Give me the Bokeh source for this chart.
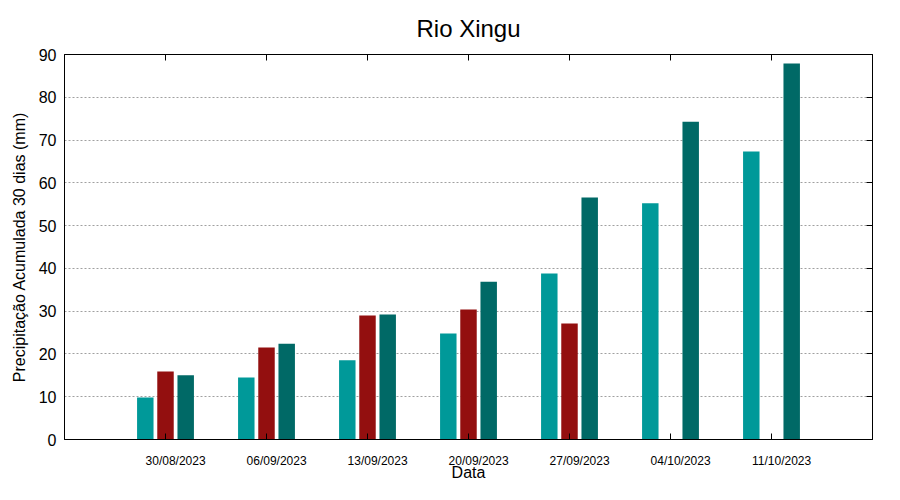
import numpy as np
from bokeh.plotting import figure
from bokeh.models import FixedTicker, LinearAxis, Range1d, Legend, LegendItem
from bokeh.embed import file_html
from bokeh.resources import INLINE

# ---- data ----
dates = ["30/08/2023", "06/09/2023", "13/09/2023", "20/09/2023",
         "27/09/2023", "04/10/2023", "11/10/2023"]
quantil_425 = [9.8, 14.5, 18.5, 24.8, 38.8, 55.2, 67.3]
observado = [15.9, 21.5, 29.0, 30.4, 27.1, float("nan"), float("nan")]
quantil_575 = [15.0, 22.4, 29.2, 36.9, 56.6, 74.3, 87.9]
y_ticks = [0, 10, 20, 30, 40, 50, 60, 70, 80, 90]

FONT = "Liberation Sans"
TEAL = "#009999"
RED = "#930f0f"
DARK = "#006966"

xs = np.arange(len(dates), dtype=float)
label_pos = [float(x + 0.1) for x in xs]

p = figure(frame_width=808, frame_height=385,
           min_border_left=64, min_border_right=28,
           min_border_top=54, min_border_bottom=20,
           x_range=Range1d(-1, 7), y_range=Range1d(0, 90),
           output_backend="svg", toolbar_location=None)

p.outline_line_color = "black"
p.outline_line_width = 1

# title
p.title.text = "Rio Xingu"
p.title.align = "center"
p.title.text_font = FONT
p.title.text_font_size = "24px"
p.title.text_font_style = "normal"
p.title.text_color = "black"
p.title.standoff = 25

# bars
w = 0.163
r1 = p.vbar(x=xs - 0.2, top=np.array(quantil_425), width=w, fill_color=TEAL, line_color=None)
r2 = p.vbar(x=xs, top=np.array(observado), width=w, fill_color=RED, line_color=None)
r3 = p.vbar(x=xs + 0.2, top=np.array(quantil_575), width=w, fill_color=DARK, line_color=None)

# bottom axis
xa = p.xaxis[0]
xa.ticker = FixedTicker(ticks=label_pos, minor_ticks=list(xs))
xa.major_label_overrides = {t: d for t, d in zip(label_pos, dates)}
xa.major_tick_in = 0
xa.major_tick_out = 0
xa.minor_tick_in = 6
xa.minor_tick_out = 0
xa.minor_tick_line_color = "black"
xa.major_label_standoff = 14
xa.major_label_text_font = FONT
xa.major_label_text_font_size = "12px"
xa.major_label_text_color = "black"
xa.axis_label = "Data"
xa.axis_label_standoff = -7
xa.axis_label_text_font = FONT
xa.axis_label_text_font_size = "16px"
xa.axis_label_text_font_style = "normal"
xa.axis_label_text_color = "black"
xa.axis_line_color = "black"

# left axis
ya = p.yaxis[0]
ya.ticker = FixedTicker(ticks=y_ticks)
ya.major_tick_in = 0
ya.major_tick_out = 0
ya.minor_tick_in = 0
ya.minor_tick_out = 0
ya.major_label_standoff = 8
ya.major_label_text_font = FONT
ya.major_label_text_font_size = "16px"
ya.major_label_text_color = "black"
ya.axis_label = "Precipitação Acumulada 30 dias (mm)"
ya.axis_label_standoff = 8
ya.axis_label_text_font = FONT
ya.axis_label_text_font_size = "16px"
ya.axis_label_text_font_style = "normal"
ya.axis_label_text_color = "black"
ya.axis_line_color = "black"

# top axis (tick marks only)
top = LinearAxis(ticker=FixedTicker(ticks=list(xs)), major_tick_in=6, major_tick_out=0,
                 minor_tick_in=0, minor_tick_out=0, major_label_text_font_size="0px",
                 major_label_standoff=0, axis_line_color="black")
p.add_layout(top, "above")

# right axis (tick marks only)
right = LinearAxis(ticker=FixedTicker(ticks=y_ticks), major_tick_in=6, major_tick_out=0,
                   minor_tick_in=0, minor_tick_out=0, major_label_text_font_size="0px",
                   major_label_standoff=0, axis_line_color="black")
p.add_layout(right, "right")

# grid
p.xgrid.visible = False
p.ygrid.ticker = FixedTicker(ticks=y_ticks)
p.ygrid.grid_line_color = "#a0a0a0"
p.ygrid.grid_line_dash = "2 2"
p.ygrid.grid_line_width = 1

# legend
legend = Legend(items=[LegendItem(label="Quantil 42.5%", renderers=[r1]),
                       LegendItem(label="Observado", renderers=[r2]),
                       LegendItem(label="Quantil 57.5%", renderers=[r3])],
                orientation="horizontal", location="top_center",
                glyph_width=42, glyph_height=7, label_height=18, label_standoff=9,
                spacing=37, padding=0, margin=-3,
                border_line_color=None, background_fill_alpha=0,
                label_text_font=FONT, label_text_font_size="16px",
                label_text_color="black")
p.add_layout(legend, "below")

open("out.html", "w").write(file_html(p, INLINE))
